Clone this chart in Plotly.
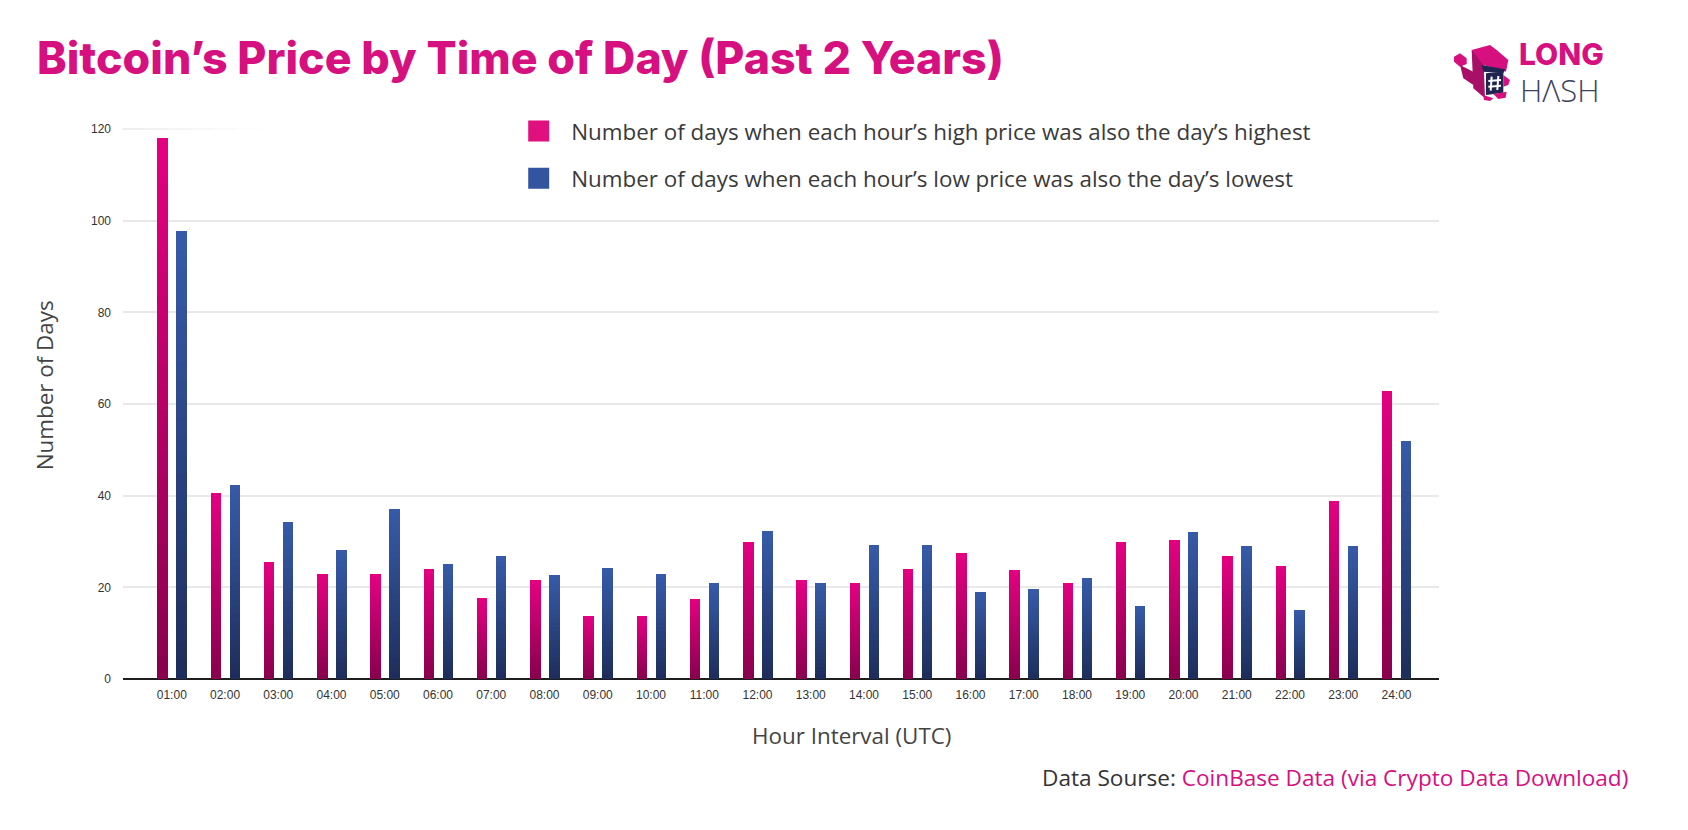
import plotly.graph_objects as go

hours = ["01:00","02:00","03:00","04:00","05:00","06:00","07:00","08:00","09:00","10:00","11:00","12:00",
         "13:00","14:00","15:00","16:00","17:00","18:00","19:00","20:00","21:00","22:00","23:00","24:00"]
high_days = [118,40.5,25.5,22.9,22.9,24,17.6,21.5,13.8,13.8,17.5,29.8,21.6,21,24.1,27.5,23.7,21,29.8,30.4,26.8,24.7,38.9,62.8]
low_days = [97.7,42.4,34.2,28.1,37.2,25,26.8,22.7,24.2,22.9,21,32.2,21,29.2,29.2,18.9,19.6,22.1,16,32,29,15,29,51.9]
high_name = "Number of days when each hour’s high price was also the day’s highest"
low_name = "Number of days when each hour’s low price was also the day’s lowest"
title_text = "Bitcoin’s Price by Time of Day (Past 2 Years)"

W, H = 1688, 830
L, R, T, B = 122.7, 1439.0, 129.0, 679.0
PITCH = 53.26
BAR_W = 10.5 / PITCH
STEPS = 24
TEXT_FONT = "Open Sans"


def mix(a, b, t):
    return "rgb(%d,%d,%d)" % tuple(round(a[i] + (b[i] - a[i]) * t) for i in range(3))


def px(x):
    return (x - L) / (R - L)


def py(y):
    return (B - y) / (B - T)


fig = go.Figure()


def add_series(name, values, offset, top, bottom):
    for k in range(STEPS):
        frac = 1 - k / STEPS
        fig.add_trace(go.Bar(
            x=hours, y=[v * frac for v in values], name=name, showlegend=False,
            offset=offset, width=BAR_W, marker=dict(color=mix(top, bottom, k / (STEPS - 1)), line_width=0),
            hoverinfo="skip" if k else None,
        ))


add_series(high_name, high_days, -14.5 / PITCH, (226, 0, 128), (138, 0, 78))
add_series(low_name, low_days, 4.5 / PITCH, (54, 90, 168), (30, 46, 92))

for name, color, grp in [(high_name, "#E0107F", "a"), (low_name, "#33559F", "b")]:
    fig.add_trace(go.Scatter(
        x=[None], y=[None], mode="markers", name=name, legendgroup=grp,
        marker=dict(symbol="square", size=16, color=color, line=dict(color=color, width=5)),
    ))

shapes = []

# the top gridline only shows as a short fading stroke in the reference
fade = ["#E9E9E9", "#EDEDED", "#F1F1F1", "#F5F5F5", "#F9F9F9", "#FCFCFC"]
for i, c in enumerate(fade):
    shapes.append(dict(type="line", xref="paper", yref="paper", x0=px(122 + i * 23), x1=px(122 + (i + 1) * 23),
                       y0=1, y1=1, line=dict(color=c, width=1.5), layer="below"))

PINK = "#D6107F"
DARK_PINK = "#A80F66"
NAVY = "#1F2450"


def poly(points, color):
    d = "M " + " L ".join(f"{px(1440 + x / 3):.5f},{py(30 + y / 3):.5f}" for x, y in points) + " Z"
    return dict(type="path", xref="paper", yref="paper", path=d, fillcolor=color, line_width=0)


mascot = [
    ([(42, 80), (60, 70), (80, 85), (80, 102), (60, 110), (42, 95)], PINK),
    ([(60, 105), (100, 125), (100, 165), (70, 145)], DARK_PINK),
    ([(95, 60), (130, 75), (135, 205), (100, 175)], DARK_PINK),
    ([(95, 60), (150, 45), (170, 60), (205, 90), (198, 125), (130, 105)], PINK),
    ([(125, 105), (195, 118), (190, 130), (130, 125)], NAVY),
    ([(138, 130), (190, 125), (190, 188), (138, 195)], NAVY),
    ([(190, 135), (210, 150), (205, 165), (190, 170)], PINK),
    ([(130, 195), (160, 205), (150, 213), (132, 210)], PINK),
    ([(160, 192), (200, 185), (197, 203), (175, 207)], PINK),
]
for pts, c in mascot:
    shapes.append(poly(pts, c))
for (x0, y0, x1, y1) in [(155, 140, 152, 182), (175, 138, 172, 180), (145, 153, 183, 150), (145, 170, 183, 167)]:
    shapes.append(dict(type="line", xref="paper", yref="paper", x0=px(1440 + x0 / 3), x1=px(1440 + x1 / 3),
                       y0=py(30 + y0 / 3), y1=py(30 + y1 / 3), line=dict(color="white", width=2)))


def note(text, x, y, size, color, anchor="left", family=TEXT_FONT, weight=None, angle=None):
    return dict(text=text, xref="paper", yref="paper", x=px(x), y=py(y), xanchor=anchor, yanchor="middle",
                showarrow=False, textangle=angle or 0,
                font=dict(family=family, size=size, color=color, weight=weight))


annotations = [
    note("Hour Interval (UTC)", 851, 736, 22.4, "#444444", "center"),
    note("Number of Days", 44, 385, 22.4, "#444444", "center", angle=-90),
    note('Data Sourse: <span style="color:#D6107F">CoinBase Data (via Crypto Data Download)</span>',
         1630, 777, 22.6, "#333333", "right"),
    note("LONG", 1517, 54, 30, "#D6107F", family="Inter", weight=800),
    note("HΛSH", 1518, 90.5, 31, "#3D4260", family=TEXT_FONT, weight=300),
]

fig.update_layout(
    width=W, height=H, autosize=False, barmode="overlay", bargap=0,
    paper_bgcolor="white", plot_bgcolor="white",
    margin=dict(l=L, r=W - R, t=T, b=H - B, pad=0),
    title=dict(text=title_text, xref="container", yref="container", x=37 / W, xanchor="left",
               y=1 - 58 / H, yanchor="middle",
               font=dict(family="Inter", size=44.7, color="#D6107F", weight=800)),
    legend=dict(x=px(506), xanchor="left", y=py(110), yanchor="top", tracegroupgap=15, itemwidth=55,
                itemclick=False, font=dict(family=TEXT_FONT, size=22.4, color="#3A3A3A"), bgcolor="rgba(0,0,0,0)"),
    showlegend=True,
    xaxis=dict(type="category", range=[(L - 171.5) / PITCH, (R - 171.5) / PITCH], showgrid=False,
               ticks="", tickfont=dict(family="Liberation Sans", size=12, color="#333333"), showline=False,
               categoryorder="array", categoryarray=hours, ticklabelstandoff=7),
    yaxis=dict(range=[0, 120], tickvals=[0, 20, 40, 60, 80, 100, 120], showgrid=True, gridcolor="#E9E9E9",
               gridwidth=1.5, zeroline=True, zerolinecolor="#1E1E1E", zerolinewidth=2, ticks="",
               tickfont=dict(family="Liberation Sans", size=12, color="#333333"), ticklabelstandoff=11),
    shapes=shapes, annotations=annotations,
)

fig.write_html("out.html", config={"displayModeBar": False}, post_script="document.body.style.margin='0';")
